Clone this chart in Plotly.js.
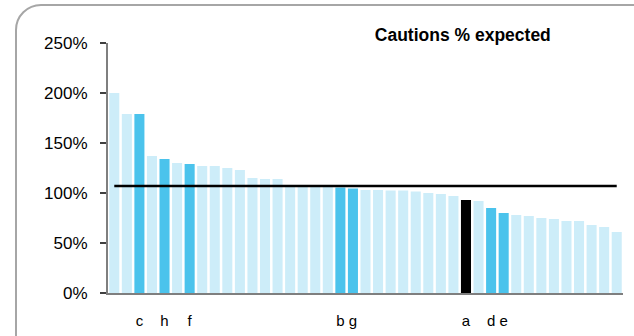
<!DOCTYPE html>
<html>
<head>
<meta charset="utf-8">
<script src="https://cdn.plot.ly/plotly-3.0.1.min.js"></script>
<style>
  html, body { margin: 0; padding: 0; width: 634px; height: 336px; overflow: hidden; background: #ffffff; }
  #frame { position: absolute; left: 15px; top: 4px; width: 660px; height: 370px; border: 2px solid #a6a6a6; border-radius: 26px; box-sizing: border-box; }
  #chart { position: absolute; left: 0; top: 0; width: 634px; height: 336px; }
</style>
</head>
<body>
<div id="frame"></div>
<div id="chart"></div>
<script>
// Cautions as % of expected, one bar per area, sorted descending
const barLabels = ['', '', 'c', '', 'h', '', 'f', '', '', '', '', '', '', '', '', '', '', '', 'b', 'g', '', '', '', '', '', '', '', '', 'a', '', 'd', 'e', '', '', '', '', '', '', '', '', ''];
const cautionsPct = [200, 179, 179, 137, 134, 130, 129, 127, 127, 125, 123, 115, 114, 114, 107, 107, 106, 106, 105.5, 104.5, 103, 103, 102.5, 102.5, 101.5, 100, 99, 97, 93, 92, 85, 80, 78, 77, 75, 74, 72, 72, 68, 66, 61];
// group: 0 = other areas, 1 = named comparators, 2 = focus area
const barGroup = [0, 0, 1, 0, 1, 0, 1, 0, 0, 0, 0, 0, 0, 0, 0, 0, 0, 0, 1, 1, 0, 0, 0, 0, 0, 0, 0, 0, 2, 0, 1, 1, 0, 0, 0, 0, 0, 0, 0, 0, 0];
const averageLevel = 107;
const yTicks = [0, 50, 100, 150, 200, 250];

const groupColors = ['#cdedf9', '#4bc3ec', '#000000'];
const xIdx = cautionsPct.map((_, i) => i);

const bars = {
  type: 'bar',
  x: xIdx,
  y: cautionsPct,
  marker: { color: barGroup.map(g => groupColors[g]), line: { width: 0 } },
  hoverinfo: 'skip',
  showlegend: false
};
const avgLine = {
  type: 'scatter',
  mode: 'lines',
  x: xIdx,
  y: xIdx.map(() => averageLevel),
  line: { color: '#000000', width: 2.5 },
  hoverinfo: 'skip',
  showlegend: false
};

const layout = {
  width: 634,
  height: 336,
  margin: { l: 108, r: 11, t: 43, b: 43 },
  paper_bgcolor: 'rgba(0,0,0,0)',
  plot_bgcolor: 'rgba(0,0,0,0)',
  bargap: 0.2,
  font: { family: 'Liberation Sans, Arial, sans-serif', color: '#000000' },
  title: {
    text: 'Cautions % expected',
    font: { size: 17.5, weight: 'bold', family: 'Liberation Sans, Arial, sans-serif', color: '#000000' },
    x: 0.730, xanchor: 'center', xref: 'container',
    y: 0.895, yanchor: 'middle', yref: 'container'
  },
  xaxis: {
    range: [-0.5, 40.5],
    tickmode: 'array',
    tickvals: xIdx,
    ticktext: barLabels,
    ticks: '',
    ticklabelstandoff: 13,
    tickfont: { size: 15 },
    showline: true,
    linecolor: '#7f7f7f',
    linewidth: 2,
    showgrid: false,
    zeroline: false,
    fixedrange: true
  },
  yaxis: {
    range: [0, 250],
    tickmode: 'array',
    tickvals: yTicks,
    ticktext: yTicks.map(v => v + '%'),
    ticks: 'outside',
    ticklen: 6,
    tickwidth: 1.5,
    tickcolor: '#404040',
    ticklabelstandoff: 9,
    tickfont: { size: 17 },
    showline: true,
    linecolor: '#7f7f7f',
    linewidth: 2,
    showgrid: false,
    zeroline: false,
    fixedrange: true
  }
};

Plotly.newPlot('chart', [bars, avgLine], layout, { displayModeBar: false, staticPlot: true });
</script>
</body>
</html>
